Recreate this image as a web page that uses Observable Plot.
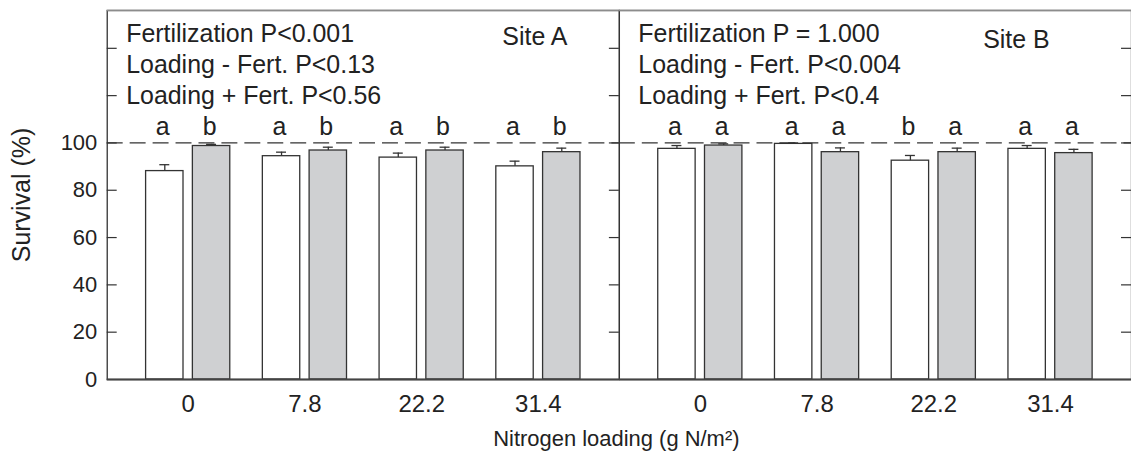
<!DOCTYPE html>
<html><head><meta charset="utf-8">
<script src="https://cdn.jsdelivr.net/npm/d3@7"></script>
<script src="https://cdn.jsdelivr.net/npm/@observablehq/plot@0.6"></script>
<style>
html,body{margin:0;padding:0;overflow:hidden;background:#fff;}
#chart svg{display:block;}
</style></head><body><div id="chart"></div>
<script>
// ---- data ----
const sites = ["Site A", "Site B"];
const nitrogen = ["0", "7.8", "22.2", "31.4"];
const siteAUnfert = [88.1, 94.4, 93.8, 90.1];
const siteAUnfertErr = [2.7, 1.7, 1.9, 2.2];
const siteAFert = [98.7, 96.8, 96.8, 96.1];
const siteAFertErr = [0.7, 1.4, 1.4, 1.7];
const siteBUnfert = [97.5, 99.6, 92.5, 97.5];
const siteBUnfertErr = [1.4, 0.4, 2.2, 1.4];
const siteBFert = [98.9, 96.1, 96.1, 95.7];
const siteBFertErr = [0.7, 1.8, 1.7, 1.6];
const siteALettersUnfert = ["a", "a", "a", "a"];
const siteALettersFert = ["b", "b", "b", "b"];
const siteBLettersUnfert = ["a", "a", "b", "a"];
const siteBLettersFert = ["a", "a", "a", "a"];
const statsA = ["Fertilization P<0.001", "Loading - Fert. P<0.13", "Loading + Fert. P<0.56"];
const statsB = ["Fertilization P = 1.000", "Loading - Fert. P<0.004", "Loading + Fert. P<0.4"];
const yTickLabels = [0, 20, 40, 60, 80, 100];
const yTickMarks = [20, 40, 60, 80, 100, 120, 140];
const reference = 100;
const yTop = 156;
const yTitle = "Survival (%)";
const xTitle = "Nitrogen loading (g N/m²)";

// ---- build tables ----
function rows(site, vals, errs, letters) {
  return nitrogen.map((n, i) => ({site, n, value: vals[i], err: errs[i], letter: letters[i]}));
}
const unfert = [
  ...rows("Site A", siteAUnfert, siteAUnfertErr, siteALettersUnfert),
  ...rows("Site B", siteBUnfert, siteBUnfertErr, siteBLettersUnfert)
];
const fert = [
  ...rows("Site A", siteAFert, siteAFertErr, siteALettersFert),
  ...rows("Site B", siteBFert, siteBFertErr, siteBLettersFert)
];
const statsRows = [{site: "Site A", text: statsA.join("\n")}, {site: "Site B", text: statsB.join("\n")}];

// ---- layout constants (styles) ----
const width = 1134, marginLeft = 107, marginRight = 0;
const facetW = (width - marginLeft - marginRight) / sites.length;
const pIn = 0.279, pOut = 0.333;
const step = facetW / (nitrogen.length - pIn + 2 * pOut);
const band = step * (1 - pIn);
const barW = 37.5;
const inset = band - barW;
const off = (band - barW) / 2;
const capHalf = 5;
const ink = "#333";
const font = "Liberation Sans, Arial, Helvetica, sans-serif";

const chart = Plot.plot({
  width, height: 463,
  marginLeft, marginRight, marginTop: 10, marginBottom: 83,
  style: {fontFamily: font, fontSize: "24px", color: "#222", background: "#fff"},
  fx: {domain: sites, paddingInner: 0, paddingOuter: 0, axis: null, round: false, label: null},
  x: {domain: nitrogen, paddingInner: pIn, paddingOuter: pOut, round: false},
  y: {domain: [0, yTop]},
  marks: [
    Plot.frame({stroke: ink, strokeWidth: 1.3}),
    Plot.ruleY([yTop], {stroke: "#8c8c8c", strokeWidth: 1.6}),
    // inward ticks: left side (Site A only), right side (both panels)
    Plot.tickY(yTickMarks, {y: d => d, fx: () => "Site A", insetRight: facetW - 10, stroke: ink, strokeWidth: 1.2}),
    Plot.tickY(yTickMarks, {y: d => d, insetLeft: facetW - 10, stroke: ink, strokeWidth: 1.2}),
    // bars
    Plot.barY(unfert, {fx: "site", x: "n", y: "value", fill: "white", stroke: ink, strokeWidth: 1.3, insetRight: inset}),
    Plot.barY(fert, {fx: "site", x: "n", y: "value", fill: "#cfd0d2", stroke: ink, strokeWidth: 1.3, insetLeft: inset}),
    // error bars
    Plot.ruleX(unfert, {fx: "site", x: "n", y1: "value", y2: d => d.value + d.err, dx: -off, stroke: ink, strokeWidth: 1.3}),
    Plot.ruleX(fert, {fx: "site", x: "n", y1: "value", y2: d => d.value + d.err, dx: off, stroke: ink, strokeWidth: 1.3}),
    Plot.tickY(unfert, {fx: "site", x: "n", y: d => d.value + d.err, insetLeft: barW / 2 - capHalf, insetRight: band - barW / 2 - capHalf, stroke: ink, strokeWidth: 1.3}),
    Plot.tickY(fert, {fx: "site", x: "n", y: d => d.value + d.err, insetLeft: band - barW / 2 - capHalf, insetRight: barW / 2 - capHalf, stroke: ink, strokeWidth: 1.3}),
    // reference line
    Plot.ruleY([reference], {stroke: ink, strokeWidth: 1.3, strokeDasharray: "16,7"}),
    // baseline
    Plot.ruleY([0], {stroke: "#444", strokeWidth: 2}),
    // significance letters
    Plot.text(unfert, {fx: "site", x: "n", y: () => reference, text: "letter", dx: -off - 2, dy: -7.5, lineAnchor: "bottom", fontSize: 25, fill: "#222"}),
    Plot.text(fert, {fx: "site", x: "n", y: () => reference, text: "letter", dx: off - 2, dy: -7.5, lineAnchor: "bottom", fontSize: 25, fill: "#222"}),
    // stats text
    Plot.text(statsRows, {fx: "site", text: "text", frameAnchor: "top-left", textAnchor: "start", lineAnchor: "top", lineHeight: 1.25, dx: 19, dy: 9, fontSize: 25, fill: "#222"}),
    // site labels
    Plot.text([sites[0]], {fx: () => "Site A", text: d => d, frameAnchor: "top-right", textAnchor: "end", lineAnchor: "top", dx: -52, dy: 17, fontSize: 25, fill: "#222"}),
    Plot.text([sites[1]], {fx: () => "Site B", text: d => d, frameAnchor: "top-right", textAnchor: "end", lineAnchor: "top", dx: -82, dy: 20, fontSize: 25, fill: "#222"}),
    // axes
    Plot.axisY({ticks: yTickLabels, tickSize: 0, tickPadding: 10, fontSize: 22, label: null}),
    Plot.axisX({tickSize: 0, tickPadding: 16, fontSize: 24, label: null}),
    // axis titles
    Plot.text([yTitle], {fx: () => "Site A", text: d => d, frameAnchor: "left", textAnchor: "middle", rotate: -90, dx: -85, fontSize: 25, fill: "#222"}),
    Plot.text([xTitle], {fx: () => "Site A", text: d => d, frameAnchor: "bottom-right", dx: -3, dy: 67, textAnchor: "middle", fontSize: 22, fill: "#222"})
  ]
});
document.getElementById("chart").append(chart);
</script></body></html>
